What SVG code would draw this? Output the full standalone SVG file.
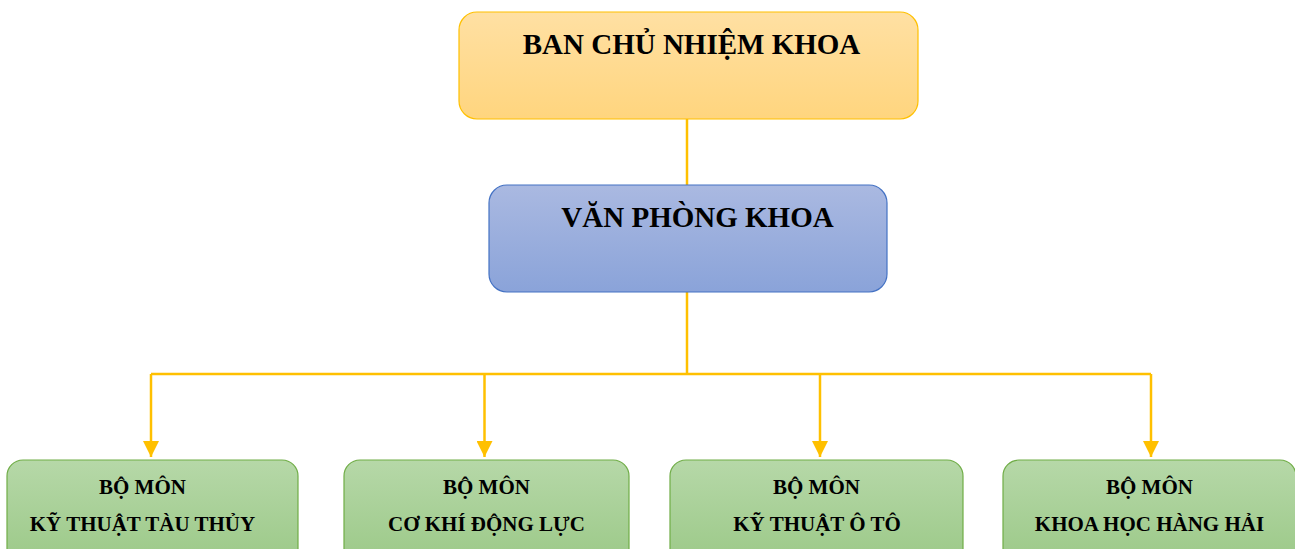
<svg xmlns="http://www.w3.org/2000/svg" width="1295" height="549" viewBox="0 0 1295 549">
<style>
text{font-family:"Liberation Serif","Times New Roman",serif;font-weight:bold;fill:#000;text-anchor:middle}
.big{font-size:29px}
.small{font-size:21px}
.conn{fill:none;stroke:#FFC000;stroke-width:2.5}
.dept rect{fill:url(#gGreen);stroke:#70AD47;stroke-width:1.2}
</style>
<defs>
<linearGradient id="gOrange" x1="0" y1="0" x2="0" y2="1"><stop offset="0" stop-color="#FFE0A3"/><stop offset="1" stop-color="#FFD57E"/></linearGradient>
<linearGradient id="gBlue" x1="0" y1="0" x2="0" y2="1"><stop offset="0" stop-color="#AAB9E1"/><stop offset="1" stop-color="#8AA3D9"/></linearGradient>
<linearGradient id="gGreen" x1="0" y1="0" x2="0" y2="1"><stop offset="0" stop-color="#B6D8A8"/><stop offset="1" stop-color="#9AC886"/></linearGradient>
<marker id="arr" viewBox="0 0 10 10" refX="10" refY="5" markerWidth="6.4" markerHeight="6.4" markerUnits="strokeWidth" orient="auto"><path d="M0,0 L10,5 L0,10 z" fill="#FFC000"/></marker>
</defs>
<g id="connectors">
<path class="conn" d="M687,119 V185"/>
<path class="conn" d="M687,292 V374"/>
<path class="conn" d="M151,374 H1151"/>
<path class="conn" d="M151,374 V457" marker-end="url(#arr)"/>
<path class="conn" d="M484.5,374 V457" marker-end="url(#arr)"/>
<path class="conn" d="M820,374 V457" marker-end="url(#arr)"/>
<path class="conn" d="M1151,374 V457" marker-end="url(#arr)"/>
</g>
<g id="ban-chu-nhiem">
<rect x="459" y="12" width="459" height="107" rx="18" fill="url(#gOrange)" stroke="#FFC000" stroke-width="1.2"/>
<text class="big" x="691.5" y="54">BAN CHỦ NHIỆM KHOA</text>
</g>
<g id="van-phong">
<rect x="489" y="185" width="398" height="107" rx="18" fill="url(#gBlue)" stroke="#4472C4" stroke-width="1.2"/>
<text class="big" x="697.5" y="227">VĂN PHÒNG KHOA</text>
</g>
<g id="bm-tau-thuy" class="dept">
<rect x="7" y="460" width="291" height="110" rx="16"/>
<text class="small" x="142.5" y="494">BỘ MÔN</text>
<text class="small" x="142.5" y="531">KỸ THUẬT TÀU THỦY</text>
</g>
<g id="bm-co-khi" class="dept">
<rect x="344" y="460" width="285" height="110" rx="16"/>
<text class="small" x="486.5" y="494">BỘ MÔN</text>
<text class="small" x="486.5" y="531">CƠ KHÍ ĐỘNG LỰC</text>
</g>
<g id="bm-o-to" class="dept">
<rect x="670" y="460" width="293" height="110" rx="16"/>
<text class="small" x="816.5" y="494">BỘ MÔN</text>
<text class="small" x="817" y="531">KỸ THUẬT Ô TÔ</text>
</g>
<g id="bm-hang-hai" class="dept">
<rect x="1003" y="460" width="293" height="110" rx="16"/>
<text class="small" x="1149.5" y="494">BỘ MÔN</text>
<text class="small" x="1149.5" y="531">KHOA HỌC HÀNG HẢI</text>
</g>
</svg>
